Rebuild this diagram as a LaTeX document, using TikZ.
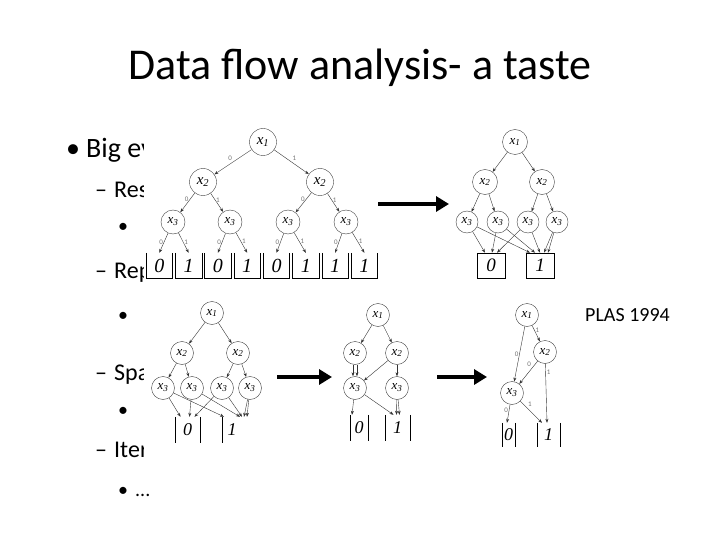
\documentclass[tikz,border=0pt]{standalone}
\usepackage{fontspec}
\setmainfont{Carlito}
\newfontfamily\leaffont{Liberation Serif}
\usetikzlibrary{arrows.meta,positioning}
\tikzstyle{var}=[circle,draw=black!75,line width=0.4pt,inner sep=0pt,minimum size=23pt,font=\leaffont\itshape\fontsize{13}{13}\selectfont]
\tikzstyle{bigvar}=[var,minimum size=27pt,font=\leaffont\itshape\fontsize{15}{15}\selectfont]
\tikzstyle{leaf}=[inner sep=0pt,minimum width=26pt,minimum height=25pt,font=\leaffont\itshape\fontsize{20}{20}\selectfont]
\tikzstyle{edge}=[-{Stealth[length=4pt,width=3pt]},line width=0.4pt,black!80]
\tikzstyle{lbl}=[font=\fontsize{7}{7}\selectfont,text=black!55,inner sep=1pt]
\tikzstyle{bar}=[line width=0.6pt]
\tikzstyle{bigarr}=[-{Triangle[length=13pt,width=15pt]},line width=4.5pt]
\tikzstyle{title}=[anchor=base,font=\fontsize{44}{53}\selectfont]
\tikzstyle{lvla}=[anchor=base west,inner sep=0pt,font=\fontsize{28}{34}\selectfont]
\tikzstyle{lvlb}=[anchor=base west,inner sep=0pt,font=\fontsize{24}{29}\selectfont]
\tikzstyle{lvlc}=[anchor=base west,inner sep=0pt,font=\fontsize{20}{24}\selectfont]
\newcommand{\xv}[1]{x\textsubscript{#1}}

\begin{document}
\begin{tikzpicture}[x=1pt,y=-1pt]
\useasboundingbox (0,0) rectangle (720,540);
\node[title] (head) at (360,80) {Data flow analysis- a taste};

% slide text, cut off by the pictures
\begin{scope}
\clip (0,120) rectangle (143,465);
\node[lvla] (b1) at (66,158) {•};
\node[lvla] (t1) at (86,158) {Big ev};
\node[lvlb] (d1) at (95,198) {–};
\node[lvlb] (t2) at (114,198) {Res};
\node[lvlc] (b2) at (118,233) {•};
\node[lvlb] (d2) at (95,278) {–};
\node[lvlb] (t3) at (114,278) {Rep};
\node[lvlc] (b3) at (118,321) {•};
\node[lvlb] (d3) at (95,380) {–};
\node[lvlb] (t4) at (114,380) {Spa};
\node[lvlc] (b4) at (118,416) {•};
\node[lvlb] (d4) at (95,457) {–};
\node[lvlb] (t5) at (114,457) {Iter};
\end{scope}
\node[lvlc] (b5) at (118,496) {•};
\node[lvlc] (t6) at (135,496) {...};
\begin{scope}
\clip (575,290) rectangle (720,335);
\node[lvlc,anchor=base east] (cite) at (670,321) {PLAS 1994};
\end{scope}

% full decision tree
\node[bigvar] (a1) at (263,142) {\xv1};
\node[bigvar] (a2l) at (203,182) {\xv2};
\node[bigvar] (a2r) at (320,182) {\xv2};
\node[var,minimum size=24pt] (a3a) at (173,222) {\xv3};
\node[var,minimum size=24pt] (a3b) at (230,222) {\xv3};
\node[var,minimum size=24pt] (a3c) at (288,222) {\xv3};
\node[var,minimum size=24pt] (a3d) at (346,222) {\xv3};
\foreach \v [count=\i] in {0,1,0,1,0,1,1,1}
  \node[leaf] (al\i) at ({130+29.3*\i},265.5) {\v};
\foreach \i in {1,...,8}
  \draw[bar] (al\i.north west) -- (al\i.south west) -- (al\i.south east) -- (al\i.north east);
\draw[edge] (a1) -- node[lbl,above left]{0} (a2l);
\draw[edge] (a1) -- node[lbl,above right]{1} (a2r);
\draw[edge] (a2l) -- node[lbl,left,pos=0.35]{0} (a3a);
\draw[edge] (a2l) -- node[lbl,right,pos=0.35]{1} (a3b);
\draw[edge] (a2r) -- node[lbl,left,pos=0.35]{0} (a3c);
\draw[edge] (a2r) -- node[lbl,right,pos=0.35]{1} (a3d);
\draw[edge] (a3a) -- node[lbl,left,pos=0.45]{0} (al1.north);
\draw[edge] (a3a) -- node[lbl,right,pos=0.45]{1} (al2.north);
\draw[edge] (a3b) -- node[lbl,left,pos=0.45]{0} (al3.north);
\draw[edge] (a3b) -- node[lbl,right,pos=0.45]{1} (al4.north);
\draw[edge] (a3c) -- node[lbl,left,pos=0.45]{0} (al5.north);
\draw[edge] (a3c) -- node[lbl,right,pos=0.45]{1} (al6.north);
\draw[edge] (a3d) -- node[lbl,left,pos=0.45]{0} (al7.north);
\draw[edge] (a3d) -- node[lbl,right,pos=0.45]{1} (al8.north);

\coordinate (ta) at (378,204);
\coordinate (tb) at (449,204);
\draw[bigarr] (ta) -- (tb);

% leaves merged
\node[var,minimum size=25pt] (r1) at (515,142) {\xv1};
\node[var,minimum size=25pt] (r2l) at (485,182) {\xv2};
\node[var,minimum size=25pt] (r2r) at (542,182) {\xv2};
\node[var,minimum size=22pt] (r3a) at (467,222) {\xv3};
\node[var,minimum size=22pt] (r3b) at (498,222) {\xv3};
\node[var,minimum size=22pt] (r3c) at (528,222) {\xv3};
\node[var,minimum size=22pt] (r3d) at (557,222) {\xv3};
\node[leaf,draw,line width=0.6pt,minimum width=28pt,font=\leaffont\itshape\fontsize{19}{19}\selectfont] (r0) at (491,265.5) {0};
\node[leaf,draw,line width=0.6pt,minimum width=28pt,font=\leaffont\itshape\fontsize{19}{19}\selectfont] (rI) at (540,265.5) {1};
\draw[edge] (r1) -- (r2l);
\draw[edge] (r1) -- (r2r);
\draw[edge] (r2l) -- (r3a);
\draw[edge] (r2l) -- (r3b);
\draw[edge] (r2r) -- (r3c);
\draw[edge] (r2r) -- (r3d);
\draw[edge] (r3a) -- ([xshift=-6pt]r0.north);
\draw[edge] (r3b) -- ([xshift=1pt]r0.north);
\draw[edge] (r3c) -- ([xshift=6pt]r0.north);
\draw[edge] (r3a) -- ([xshift=-10pt]rI.north);
\draw[edge] (r3b) -- ([xshift=-5pt]rI.north);
\draw[edge] (r3c) -- (rI.north);
\draw[edge] (r3d) -- ([xshift=4pt]rI.north);
\draw[edge] (r3d) -- ([xshift=8pt]rI.north);

% second row
\tikzstyle{small}=[leaf,font=\leaffont\itshape\fontsize{18}{18}\selectfont,minimum height=26pt]
\node[var] (p1) at (212,313) {\xv1};
\node[var] (p2l) at (182,353) {\xv2};
\node[var] (p2r) at (238,353) {\xv2};
\node[var] (p3a) at (163,388) {\xv3};
\node[var] (p3b) at (192,388) {\xv3};
\node[var] (p3c) at (222,388) {\xv3};
\node[var] (p3d) at (250,388) {\xv3};
\node[small,minimum width=25pt] (p0) at (187.5,430) {0};
\node[small,minimum width=20pt] (pI) at (232,430) {1};
\draw[bar] (p0.north west) -- (p0.south west) (p0.north east) -- (p0.south east);
\draw[bar] (pI.north west) -- (pI.south west);
\draw[edge] (p1) -- (p2l);
\draw[edge] (p1) -- (p2r);
\draw[edge] (p2l) -- (p3a);
\draw[edge] (p2l) -- (p3b);
\draw[edge] (p2r) -- (p3c);
\draw[edge] (p2r) -- (p3d);
\draw[edge] (p3a) -- ([xshift=-7pt]p0.north);
\draw[edge] (p3b) -- ([xshift=2pt]p0.north);
\draw[edge] (p3c) -- ([xshift=7pt]p0.north);
\draw[edge] (p3a) -- ([xshift=-8pt]pI.north);
\draw[edge] (p3b) -- ([xshift=8pt]pI.north);
\draw[edge] (p3c) -- ([xshift=10pt]pI.north);
\draw[edge] (p3d) -- ([xshift=12pt]pI.north);
\draw[edge] (p3d) -- ([xshift=15pt]pI.north);

\coordinate (ba) at (277,377);
\coordinate (bb) at (332,377);
\draw[bigarr] (ba) -- (bb);

\node[var] (q1) at (378,315) {\xv1};
\node[var] (q2l) at (355,353) {\xv2};
\node[var] (q2r) at (397,353) {\xv2};
\node[var] (q3l) at (355,388) {\xv3};
\node[var] (q3r) at (397,388) {\xv3};
\node[small,minimum width=18pt] (q0) at (359,428) {0};
\node[small,minimum width=25pt] (qI) at (397.5,428) {1};
\draw[bar] (q0.north west) -- (q0.south west) (q0.north east) -- (q0.south east);
\draw[bar] (qI.north west) -- (qI.south west) (qI.north east) -- (qI.south east);
\draw[edge] (q1) -- (q2l);
\draw[edge] (q1) -- (q2r);
\draw[edge] ([xshift=-2pt]q2l.south) -- ([xshift=-2pt]q3l.north);
\draw[edge] ([xshift=2pt]q2l.south) -- ([xshift=2pt]q3l.north);
\draw[edge] (q2r) -- (q3l);
\draw[edge] (q2r) -- (q3r);
\draw[edge] (q3l) -- ([xshift=-7pt]q0.north);
\draw[edge] (q3l) -- ([xshift=-4pt]qI.north);
\draw[edge] (q3r) -- ([xshift=-1pt]qI.north);
\draw[edge] (q3r) -- ([xshift=2pt]qI.north);

\coordinate (ca) at (437,377);
\coordinate (cb) at (487,377);
\draw[bigarr] (ca) -- (cb);

\node[var] (s1) at (527,315) {\xv1};
\node[var] (s2) at (545,352) {\xv2};
\node[var] (s3) at (512,393) {\xv3};
\node[small,minimum width=13pt,minimum height=24pt] (s0) at (508.5,435) {0};
\node[small,minimum width=23pt,minimum height=24pt] (sI) at (548.5,435) {1};
\draw[bar] (s0.north west) -- (s0.south west) (s0.north east) -- (s0.south east);
\draw[bar] (sI.north west) -- (sI.south west) (sI.north east) -- (sI.south east);
\draw[edge] (s1) -- node[lbl,left]{0} (s3);
\draw[edge] (s1) -- node[lbl,right,pos=0.3]{1} (s2);
\draw[edge] (s2) -- node[lbl,above left,pos=0.3]{0} (s3);
\draw[edge] (s2) -- node[lbl,right,pos=0.15]{1} ([xshift=-1.5pt]sI.north);
\draw[edge] (s3) -- node[lbl,left,pos=0.3]{0} ([xshift=-1.5pt]s0.north);
\draw[edge] (s3) -- node[lbl,above right,pos=0.3]{1} ([xshift=-6.5pt]sI.north);
\end{tikzpicture}
\end{document}
